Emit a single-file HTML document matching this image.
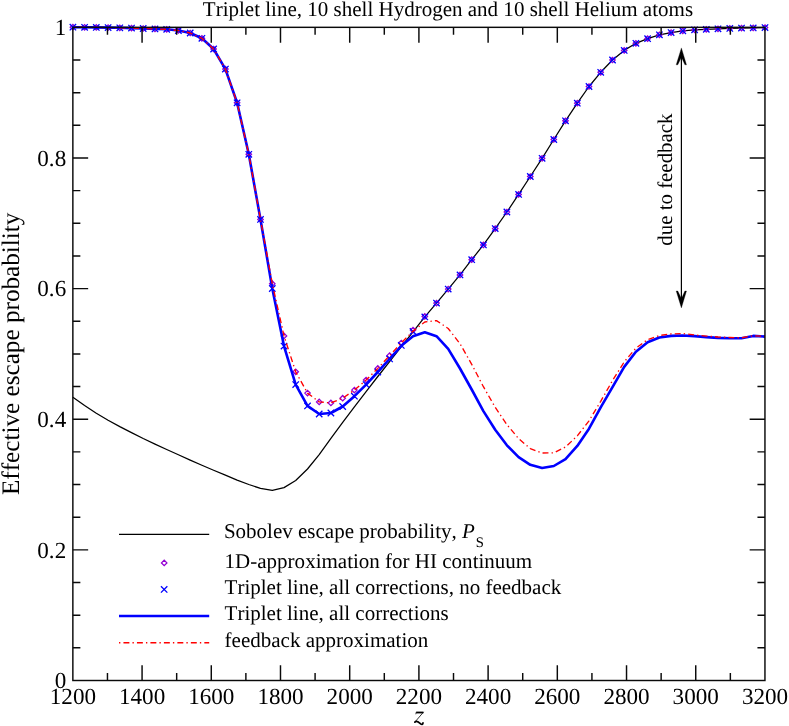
<!DOCTYPE html>
<html><head><meta charset="utf-8"><title>Effective escape probability</title>
<style>html,body{margin:0;padding:0;background:#fff;width:789px;height:726px;overflow:hidden;font-family:"Liberation Serif",serif}</style>
</head><body>
<svg width="789" height="726" viewBox="0 0 789 726" style="position:absolute;left:0;top:0;will-change:transform;font-kerning:none;font-variant-ligatures:none;text-rendering:geometricPrecision">
<path d="M72.9,397.3 L84.6,405.6 L96.3,413.3 L108.1,420.2 L119.8,426.6 L131.5,432.6 L143.2,438.5 L155.0,444.1 L166.7,449.5 L178.4,454.8 L190.2,460.1 L201.9,465.2 L213.6,470.2 L225.4,475.2 L237.1,480.1 L248.8,484.5 L260.5,488.4 L272.3,490.3 L284.0,487.6 L295.7,480.5 L307.5,469.0 L319.2,454.6 L330.9,438.3 L342.7,422.4 L354.4,406.9 L366.1,391.6 L377.8,376.5 L389.6,361.6 L401.3,346.7 L413.0,331.8 L424.8,316.9 L436.5,303.1 L448.2,289.1 L460.0,274.9 L471.7,259.7 L483.4,244.9 L495.2,228.6 L506.9,212.0 L518.6,194.4 L530.3,176.5 L542.1,158.3 L553.8,139.5 L565.5,120.8 L577.3,103.2 L589.0,86.5 L600.7,72.3 L612.5,60.0 L624.2,50.4 L635.9,43.3 L647.6,38.7 L659.4,34.8 L671.1,32.6 L682.8,30.8 L694.6,29.8 L706.3,29.3 L718.0,28.8 L729.8,28.4 L741.5,28.1 L753.2,27.9 L765.0,27.6" fill="none" stroke="#000" stroke-width="1.25" stroke-linejoin="round"/>
<path d="M70.2,27.2 L72.9,24.5 L75.6,27.2 L72.9,29.9Z M81.9,27.3 L84.6,24.6 L87.3,27.3 L84.6,30.0Z M93.6,27.4 L96.3,24.7 L99.0,27.4 L96.3,30.1Z M105.4,27.6 L108.1,24.9 L110.8,27.6 L108.1,30.3Z M117.1,27.8 L119.8,25.1 L122.5,27.8 L119.8,30.5Z M128.8,28.1 L131.5,25.4 L134.2,28.1 L131.5,30.8Z M140.5,28.5 L143.2,25.8 L145.9,28.5 L143.2,31.2Z M152.3,28.9 L155.0,26.2 L157.7,28.9 L155.0,31.6Z M164.0,29.3 L166.7,26.6 L169.4,29.3 L166.7,32.0Z M175.7,30.5 L178.4,27.8 L181.1,30.5 L178.4,33.2Z M187.5,33.0 L190.2,30.3 L192.9,33.0 L190.2,35.7Z M199.2,38.3 L201.9,35.6 L204.6,38.3 L201.9,41.0Z M210.9,49.0 L213.6,46.3 L216.3,49.0 L213.6,51.7Z M222.7,69.1 L225.4,66.4 L228.1,69.1 L225.4,71.8Z M234.4,102.8 L237.1,100.1 L239.8,102.8 L237.1,105.5Z M246.1,154.3 L248.8,151.6 L251.5,154.3 L248.8,157.0Z M257.8,219.4 L260.5,216.7 L263.2,219.4 L260.5,222.1Z M269.6,283.7 L272.3,281.0 L275.0,283.7 L272.3,286.4Z M281.3,335.9 L284.0,333.2 L286.7,335.9 L284.0,338.6Z M293.0,371.8 L295.7,369.1 L298.4,371.8 L295.7,374.5Z M304.8,393.1 L307.5,390.4 L310.2,393.1 L307.5,395.8Z M316.5,401.9 L319.2,399.2 L321.9,401.9 L319.2,404.6Z M328.2,402.9 L330.9,400.2 L333.6,402.9 L330.9,405.6Z M340.0,398.2 L342.7,395.5 L345.4,398.2 L342.7,400.9Z M351.7,390.1 L354.4,387.4 L357.1,390.1 L354.4,392.8Z M363.4,380.0 L366.1,377.3 L368.8,380.0 L366.1,382.7Z M375.1,368.4 L377.8,365.7 L380.5,368.4 L377.8,371.1Z M386.9,355.6 L389.6,352.9 L392.3,355.6 L389.6,358.3Z M398.6,343.0 L401.3,340.3 L404.0,343.0 L401.3,345.7Z M410.3,330.1 L413.0,327.4 L415.7,330.1 L413.0,332.8Z M422.1,316.4 L424.8,313.7 L427.5,316.4 L424.8,319.1Z M433.8,303.1 L436.5,300.4 L439.2,303.1 L436.5,305.8Z M445.5,289.1 L448.2,286.4 L450.9,289.1 L448.2,291.8Z M457.3,274.9 L460.0,272.2 L462.7,274.9 L460.0,277.6Z M469.0,259.7 L471.7,257.0 L474.4,259.7 L471.7,262.4Z M480.7,244.9 L483.4,242.2 L486.1,244.9 L483.4,247.6Z M492.5,228.6 L495.2,225.9 L497.9,228.6 L495.2,231.3Z M504.2,212.0 L506.9,209.3 L509.6,212.0 L506.9,214.7Z M515.9,194.4 L518.6,191.7 L521.3,194.4 L518.6,197.1Z M527.6,176.5 L530.3,173.8 L533.0,176.5 L530.3,179.2Z M539.4,158.3 L542.1,155.6 L544.8,158.3 L542.1,161.0Z M551.1,139.5 L553.8,136.8 L556.5,139.5 L553.8,142.2Z M562.8,120.8 L565.5,118.1 L568.2,120.8 L565.5,123.5Z M574.6,103.2 L577.3,100.5 L580.0,103.2 L577.3,105.9Z M586.3,86.5 L589.0,83.8 L591.7,86.5 L589.0,89.2Z M598.0,72.3 L600.7,69.6 L603.4,72.3 L600.7,75.0Z M609.8,60.0 L612.5,57.3 L615.2,60.0 L612.5,62.7Z M621.5,50.4 L624.2,47.7 L626.9,50.4 L624.2,53.1Z M633.2,43.3 L635.9,40.6 L638.6,43.3 L635.9,46.0Z M644.9,38.7 L647.6,36.0 L650.3,38.7 L647.6,41.4Z M656.7,34.8 L659.4,32.1 L662.1,34.8 L659.4,37.5Z M668.4,32.6 L671.1,29.9 L673.8,32.6 L671.1,35.3Z M680.1,30.8 L682.8,28.1 L685.5,30.8 L682.8,33.5Z M691.9,29.8 L694.6,27.1 L697.3,29.8 L694.6,32.5Z M703.6,29.3 L706.3,26.6 L709.0,29.3 L706.3,32.0Z M715.3,28.8 L718.0,26.1 L720.7,28.8 L718.0,31.5Z M727.1,28.4 L729.8,25.7 L732.5,28.4 L729.8,31.1Z M738.8,28.1 L741.5,25.4 L744.2,28.1 L741.5,30.8Z M750.5,27.9 L753.2,25.2 L755.9,27.9 L753.2,30.6Z M762.2,27.6 L765.0,24.9 L767.7,27.6 L765.0,30.3Z" fill="none" stroke="#9400d3" stroke-width="1.3"/>
<path d="M69.7,24.0 L76.1,30.4 M69.7,30.4 L76.1,24.0 M81.4,24.1 L87.8,30.5 M81.4,30.5 L87.8,24.1 M93.1,24.2 L99.5,30.6 M93.1,30.6 L99.5,24.2 M104.9,24.4 L111.3,30.8 M104.9,30.8 L111.3,24.4 M116.6,24.6 L123.0,31.0 M116.6,31.0 L123.0,24.6 M128.3,24.9 L134.7,31.3 M128.3,31.3 L134.7,24.9 M140.0,25.3 L146.4,31.7 M140.0,31.7 L146.4,25.3 M151.8,25.7 L158.2,32.1 M151.8,32.1 L158.2,25.7 M163.5,26.1 L169.9,32.5 M163.5,32.5 L169.9,26.1 M175.2,27.3 L181.6,33.7 M175.2,33.7 L181.6,27.3 M187.0,29.8 L193.4,36.2 M187.0,36.2 L193.4,29.8 M198.7,35.1 L205.1,41.5 M198.7,41.5 L205.1,35.1 M210.4,45.8 L216.8,52.2 M210.4,52.2 L216.8,45.8 M222.2,65.9 L228.6,72.3 M222.2,72.3 L228.6,65.9 M233.9,99.6 L240.3,106.0 M233.9,106.0 L240.3,99.6 M245.6,151.1 L252.0,157.5 M245.6,157.5 L252.0,151.1 M257.3,216.2 L263.7,222.6 M257.3,222.6 L263.7,216.2 M269.1,285.3 L275.5,291.7 M269.1,291.7 L275.5,285.3 M280.8,342.9 L287.2,349.3 M280.8,349.3 L287.2,342.9 M292.5,381.4 L298.9,387.8 M292.5,387.8 L298.9,381.4 M304.3,402.7 L310.7,409.1 M304.3,409.1 L310.7,402.7 M316.0,410.8 L322.4,417.2 M316.0,417.2 L322.4,410.8 M327.7,409.8 L334.1,416.2 M327.7,416.2 L334.1,409.8 M339.5,403.3 L345.9,409.7 M339.5,409.7 L345.9,403.3 M351.2,393.0 L357.6,399.4 M351.2,399.4 L357.6,393.0 M362.9,381.4 L369.3,387.8 M362.9,387.8 L369.3,381.4 M374.6,368.8 L381.0,375.2 M374.6,375.2 L381.0,368.8 M386.4,355.7 L392.8,362.1 M386.4,362.1 L392.8,355.7 M398.1,342.2 L404.5,348.6 M398.1,348.6 L404.5,342.2 M409.8,328.3 L416.2,334.7 M409.8,334.7 L416.2,328.3 M421.6,313.7 L428.0,320.1 M421.6,320.1 L428.0,313.7 M433.3,299.9 L439.7,306.3 M433.3,306.3 L439.7,299.9 M445.0,285.9 L451.4,292.3 M445.0,292.3 L451.4,285.9 M456.8,271.7 L463.2,278.1 M456.8,278.1 L463.2,271.7 M468.5,256.5 L474.9,262.9 M468.5,262.9 L474.9,256.5 M480.2,241.7 L486.6,248.1 M480.2,248.1 L486.6,241.7 M492.0,225.4 L498.4,231.8 M492.0,231.8 L498.4,225.4 M503.7,208.8 L510.1,215.2 M503.7,215.2 L510.1,208.8 M515.4,191.2 L521.8,197.6 M515.4,197.6 L521.8,191.2 M527.1,173.3 L533.5,179.7 M527.1,179.7 L533.5,173.3 M538.9,155.1 L545.3,161.5 M538.9,161.5 L545.3,155.1 M550.6,136.3 L557.0,142.7 M550.6,142.7 L557.0,136.3 M562.3,117.6 L568.7,124.0 M562.3,124.0 L568.7,117.6 M574.1,100.0 L580.5,106.4 M574.1,106.4 L580.5,100.0 M585.8,83.3 L592.2,89.7 M585.8,89.7 L592.2,83.3 M597.5,69.1 L603.9,75.5 M597.5,75.5 L603.9,69.1 M609.3,56.8 L615.7,63.2 M609.3,63.2 L615.7,56.8 M621.0,47.2 L627.4,53.6 M621.0,53.6 L627.4,47.2 M632.7,40.1 L639.1,46.5 M632.7,46.5 L639.1,40.1 M644.4,35.5 L650.8,41.9 M644.4,41.9 L650.8,35.5 M656.2,31.6 L662.6,38.0 M656.2,38.0 L662.6,31.6 M667.9,29.4 L674.3,35.8 M667.9,35.8 L674.3,29.4 M679.6,27.6 L686.0,34.0 M679.6,34.0 L686.0,27.6 M691.4,26.6 L697.8,33.0 M691.4,33.0 L697.8,26.6 M703.1,26.1 L709.5,32.5 M703.1,32.5 L709.5,26.1 M714.8,25.6 L721.2,32.0 M714.8,32.0 L721.2,25.6 M726.6,25.2 L733.0,31.6 M726.6,31.6 L733.0,25.2 M738.3,24.9 L744.7,31.3 M738.3,31.3 L744.7,24.9 M750.0,24.7 L756.4,31.1 M750.0,31.1 L756.4,24.7 M761.8,24.4 L768.2,30.8 M761.8,30.8 L768.2,24.4" fill="none" stroke="#0000ff" stroke-width="1.3"/>
<path d="M72.9,27.2 L84.6,27.3 L96.3,27.4 L108.1,27.6 L119.8,27.8 L131.5,28.1 L143.2,28.5 L155.0,28.9 L166.7,29.3 L178.4,30.5 L190.2,33.0 L201.9,38.3 L213.6,49.0 L225.4,69.1 L237.1,102.8 L248.8,154.3 L260.5,219.4 L272.3,288.5 L284.0,346.1 L295.7,384.6 L307.5,405.9 L319.2,414.0 L330.9,413.0 L342.7,406.5 L354.4,396.2 L366.1,384.6 L377.8,372.0 L389.6,358.9 L401.3,345.8 L413.0,336.2 L424.8,332.2 L436.5,336.2 L448.2,348.9 L460.0,368.5 L471.7,389.5 L483.4,411.1 L495.2,429.7 L506.9,445.3 L518.6,457.1 L530.3,464.8 L542.1,468.0 L553.8,466.0 L565.5,459.1 L577.3,445.9 L589.0,428.7 L600.7,407.4 L612.5,387.2 L624.2,366.9 L635.9,351.7 L647.6,342.2 L659.4,337.5 L671.1,335.9 L682.8,335.5 L694.6,336.1 L706.3,337.1 L718.0,337.9 L729.8,338.3 L741.5,338.3 L753.2,335.9 L765.0,336.6" fill="none" stroke="#0000ff" stroke-width="2.6" stroke-linejoin="round"/>
<path d="M72.9,27.2 L84.6,27.3 L96.3,27.4 L108.1,27.6 L119.8,27.8 L131.5,28.1 L143.2,28.5 L155.0,28.9 L166.7,29.3 L178.4,30.5 L190.2,33.0 L201.9,38.3 L213.6,49.0 L225.4,69.1 L237.1,102.8 L248.8,154.3 L260.5,219.4 L272.3,283.7 L284.0,335.9 L295.7,371.8 L307.5,393.1 L319.2,401.9 L330.9,402.9 L342.7,398.2 L354.4,390.1 L366.1,380.0 L377.8,368.4 L389.6,355.6 L401.3,343.0 L413.0,331.1 L424.8,322.0 L436.5,320.6 L448.2,328.5 L460.0,343.7 L471.7,364.3 L483.4,386.7 L495.2,407.3 L506.9,424.6 L518.6,438.6 L530.3,448.6 L542.1,453.0 L553.8,452.8 L565.5,447.0 L577.3,435.9 L589.0,420.8 L600.7,401.3 L612.5,380.6 L624.2,361.9 L635.9,348.1 L647.6,339.6 L659.4,335.5 L671.1,333.9 L682.8,333.6 L694.6,334.9 L706.3,336.1 L718.0,337.0 L729.8,337.5 L741.5,337.8 L753.2,335.7 L765.0,336.4" fill="none" stroke="#ff0000" stroke-width="1.35" stroke-dasharray="1.35 3.1 5.93 3.1" stroke-dashoffset="-1.9" stroke-linejoin="round"/>
<rect x="72.86" y="27.33" width="692.09" height="653.17" fill="none" stroke="#0a0a0a" stroke-width="1.45"/>
<path d="M107.46,680.5 v-7.5 M107.46,27.33 v7.5 M142.07,680.5 v-15.3 M142.07,27.33 v15.3 M176.67,680.5 v-7.5 M176.67,27.33 v7.5 M211.28,680.5 v-15.3 M211.28,27.33 v15.3 M245.88,680.5 v-7.5 M245.88,27.33 v7.5 M280.49,680.5 v-15.3 M280.49,27.33 v15.3 M315.09,680.5 v-7.5 M315.09,27.33 v7.5 M349.70,680.5 v-15.3 M349.70,27.33 v15.3 M384.30,680.5 v-7.5 M384.30,27.33 v7.5 M418.91,680.5 v-15.3 M418.91,27.33 v15.3 M453.51,680.5 v-7.5 M453.51,27.33 v7.5 M488.11,680.5 v-15.3 M488.11,27.33 v15.3 M522.72,680.5 v-7.5 M522.72,27.33 v7.5 M557.32,680.5 v-15.3 M557.32,27.33 v15.3 M591.93,680.5 v-7.5 M591.93,27.33 v7.5 M626.53,680.5 v-15.3 M626.53,27.33 v15.3 M661.14,680.5 v-7.5 M661.14,27.33 v7.5 M695.74,680.5 v-15.3 M695.74,27.33 v15.3 M730.35,680.5 v-7.5 M730.35,27.33 v7.5 M72.86,647.84 h7.5 M764.95,647.84 h-7.5 M72.86,615.18 h7.5 M764.95,615.18 h-7.5 M72.86,582.52 h7.5 M764.95,582.52 h-7.5 M72.86,549.87 h15.3 M764.95,549.87 h-15.3 M72.86,517.21 h7.5 M764.95,517.21 h-7.5 M72.86,484.55 h7.5 M764.95,484.55 h-7.5 M72.86,451.89 h7.5 M764.95,451.89 h-7.5 M72.86,419.23 h15.3 M764.95,419.23 h-15.3 M72.86,386.57 h7.5 M764.95,386.57 h-7.5 M72.86,353.92 h7.5 M764.95,353.92 h-7.5 M72.86,321.26 h7.5 M764.95,321.26 h-7.5 M72.86,288.60 h15.3 M764.95,288.60 h-15.3 M72.86,255.94 h7.5 M764.95,255.94 h-7.5 M72.86,223.28 h7.5 M764.95,223.28 h-7.5 M72.86,190.62 h7.5 M764.95,190.62 h-7.5 M72.86,157.96 h15.3 M764.95,157.96 h-15.3 M72.86,125.31 h7.5 M764.95,125.31 h-7.5 M72.86,92.65 h7.5 M764.95,92.65 h-7.5 M72.86,59.99 h7.5 M764.95,59.99 h-7.5" fill="none" stroke="#0a0a0a" stroke-width="1.45"/>
<path d="M681.4,52 V304" stroke="#000" stroke-width="1.2" fill="none"/>
<path d="M681.4,47.9 L676.1999999999999,64.8 L677.8,64.8 L681.4,57.2 L684.9,64.8 L686.5,64.8Z" fill="#000" stroke="#000" stroke-width="0.3" stroke-linejoin="miter"/>
<path d="M681.4,307.9 L676.1999999999999,291.0 L677.8,291.0 L681.4,298.6 L684.9,291.0 L686.5,291.0Z" fill="#000" stroke="#000" stroke-width="0.3" stroke-linejoin="miter"/>
<path d="M119.0,534.35 H209.2" stroke="#000" stroke-width="1.25"/>
<path d="M161.5,562.9 L164.2,560.1999999999999 L166.89999999999998,562.9 L164.2,565.6Z" fill="none" stroke="#9400d3" stroke-width="1.3"/>
<path d="M160.95000000000002,586.1999999999999 L167.35,592.6 M160.95000000000002,592.6 L167.35,586.1999999999999" fill="none" stroke="#0000ff" stroke-width="1.3"/>
<path d="M119.0,616.0 H209.2" stroke="#0000ff" stroke-width="2.6"/>
<path d="M119.0,642.7 H209.2" stroke="#ff0000" stroke-width="1.35" stroke-dasharray="1.35 3.1 5.93 3.1"/>
<text x="202.8" y="15.5" font-family="Liberation Serif, serif" font-size="21.03">Triplet line, 10 shell Hydrogen and 10 shell Helium atoms</text>
<text x="72.9" y="703.8" font-family="Liberation Serif, serif" font-size="23.1" text-anchor="middle">1200</text>
<text x="142.1" y="703.8" font-family="Liberation Serif, serif" font-size="23.1" text-anchor="middle">1400</text>
<text x="211.3" y="703.8" font-family="Liberation Serif, serif" font-size="23.1" text-anchor="middle">1600</text>
<text x="280.5" y="703.8" font-family="Liberation Serif, serif" font-size="23.1" text-anchor="middle">1800</text>
<text x="349.7" y="703.8" font-family="Liberation Serif, serif" font-size="23.1" text-anchor="middle">2000</text>
<text x="418.9" y="703.8" font-family="Liberation Serif, serif" font-size="23.1" text-anchor="middle">2200</text>
<text x="488.1" y="703.8" font-family="Liberation Serif, serif" font-size="23.1" text-anchor="middle">2400</text>
<text x="557.3" y="703.8" font-family="Liberation Serif, serif" font-size="23.1" text-anchor="middle">2600</text>
<text x="626.5" y="703.8" font-family="Liberation Serif, serif" font-size="23.1" text-anchor="middle">2800</text>
<text x="695.7" y="703.8" font-family="Liberation Serif, serif" font-size="23.1" text-anchor="middle">3000</text>
<text x="765.0" y="703.8" font-family="Liberation Serif, serif" font-size="23.1" text-anchor="middle">3200</text>
<text x="66.2" y="688.25" font-family="Liberation Serif, serif" font-size="23.1" text-anchor="end">0</text>
<text x="66.2" y="557.62" font-family="Liberation Serif, serif" font-size="23.1" text-anchor="end">0.2</text>
<text x="66.2" y="426.98" font-family="Liberation Serif, serif" font-size="23.1" text-anchor="end">0.4</text>
<text x="66.2" y="296.35" font-family="Liberation Serif, serif" font-size="23.1" text-anchor="end">0.6</text>
<text x="66.2" y="165.71" font-family="Liberation Serif, serif" font-size="23.1" text-anchor="end">0.8</text>
<text x="66.2" y="35.08" font-family="Liberation Serif, serif" font-size="23.1" text-anchor="end">1</text>
<g fill="none" stroke="#000" stroke-linecap="round"><path d="M416.15,712.5 H423.4" stroke-width="1.8" stroke-linecap="butt"/><path d="M416.2,712.4 L415.85,713.9" stroke-width="0.7"/><path d="M423.4,712.2 L414.8,722.2" stroke-width="0.8"/><path d="M414.9,722.1 C416.7,720.3 418.8,722.3 420.3,723.6 S422.9,724.8 423.0,722.9" stroke-width="1.7"/></g>
<text transform="translate(19.2,353.8) rotate(-90)" font-family="Liberation Serif, serif" font-size="25.2" text-anchor="middle">Effective escape probability</text>
<text transform="translate(672.2,179.6) rotate(-90)" font-family="Liberation Serif, serif" font-size="20.9" text-anchor="middle">due to feedback</text>
<text x="223.9" y="538.1" font-family="Liberation Serif, serif" font-size="21.03">Sobolev escape probability, <tspan font-style="italic">P</tspan><tspan dy="8.6" dx="1" font-size="14.6">S</tspan></text>
<text x="224.6" y="567.6" font-family="Liberation Serif, serif" font-size="21.03">1D-approximation for HI continuum</text>
<text x="224.6" y="593.9" font-family="Liberation Serif, serif" font-size="21.03">Triplet line, all corrections, no feedback</text>
<text x="224.6" y="620.4" font-family="Liberation Serif, serif" font-size="21.03">Triplet line, all corrections</text>
<text x="224.6" y="646.8" font-family="Liberation Serif, serif" font-size="21.03">feedback approximation</text>
</svg>
</body></html>
